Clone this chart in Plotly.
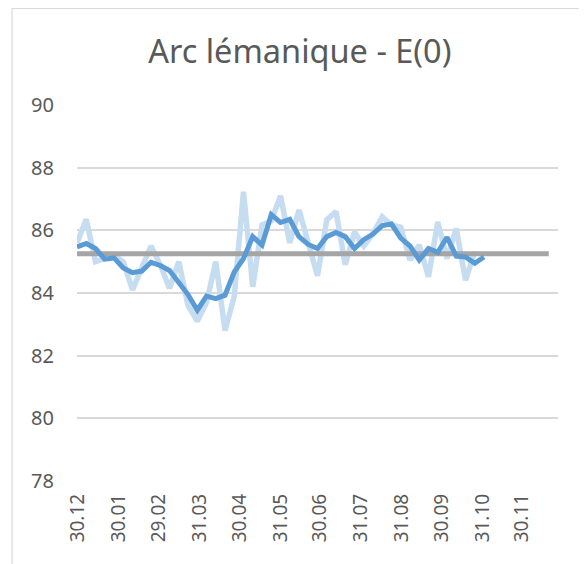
import pandas as pd
import plotly.graph_objects as go

title = "Arc lémanique - E(0)"

week_start = "2019-12-29"
n_weeks = 52

weekly = [85.6, 86.35, 85.0, 85.1, 85.2, 85.0, 84.1, 84.8, 85.5, 84.9,
          84.15, 85.0, 83.6, 83.1, 83.7, 85.0, 82.8, 83.9, 87.23, 84.2,
          86.17, 86.3, 87.1, 85.6, 86.65, 85.6, 84.55, 86.33, 86.6, 84.9,
          85.95, 85.5, 85.9, 86.43, 86.17, 86.1, 85.05, 85.53, 84.52, 86.27,
          85.1, 86.06, 84.41, 85.31]

smoothed = [85.47, 85.58, 85.42, 85.08, 85.12, 84.8, 84.65, 84.7, 84.98, 84.88,
            84.72, 84.35, 83.95, 83.45, 83.9, 83.82, 83.93, 84.67, 85.1, 85.8,
            85.53, 86.5, 86.25, 86.35, 85.8, 85.55, 85.42, 85.8, 85.93, 85.8,
            85.42, 85.7, 85.88, 86.15, 86.2, 85.75, 85.5, 85.05, 85.42, 85.3,
            85.78, 85.18, 85.15, 84.95, 85.15]

average_level = 85.25

tick_dates = ["2019-12-30", "2020-01-30", "2020-02-29", "2020-03-31", "2020-04-30",
              "2020-05-31", "2020-06-30", "2020-07-31", "2020-08-31", "2020-09-30",
              "2020-10-31", "2020-11-30"]
tick_labels = ["30.12", "30.01", "29.02", "31.03", "30.04", "31.05", "30.06",
               "31.07", "31.08", "30.09", "31.10", "30.11"]

dates = pd.date_range(week_start, periods=n_weeks, freq="7D")

fig = go.Figure()
fig.add_trace(go.Scatter(x=dates[:len(weekly)], y=weekly, mode="lines",
                         line=dict(color="#c6dcf0", width=5.5), showlegend=False))
fig.add_trace(go.Scatter(x=dates, y=[average_level] * n_weeks, mode="lines",
                         line=dict(color="#a5a5a5", width=5), showlegend=False))
fig.add_trace(go.Scatter(x=dates[:len(smoothed)], y=smoothed, mode="lines",
                         line=dict(color="#5b9bd5", width=5), showlegend=False))

font_family = "Noto Sans, Open Sans, sans-serif"

# page body has an 8px default margin, so the figure is 8px smaller than the window
fig.update_layout(
    width=579, height=556,
    margin=dict(l=69, r=29, t=97, b=83),
    paper_bgcolor="white", plot_bgcolor="white",
    title=dict(text=title, x=0.504, xanchor="center", y=0.921, yanchor="middle",
               font=dict(family=font_family, size=32.5, color="#595959")),
    font=dict(family=font_family, color="#595959"),
    xaxis=dict(type="date", range=["2019-12-29", "2020-12-27"],
               tickvals=tick_dates, ticktext=tick_labels, tickangle=-90,
               tickfont=dict(size=19, color="#595959"), showgrid=False,
               zeroline=False, showline=False, ticks="", ticklabelstandoff=8),
    yaxis=dict(range=[78, 90], tickvals=[78, 80, 82, 84, 86, 88, 90],
               tickfont=dict(size=20, color="#595959"), showgrid=True,
               gridcolor="#d9d9d9", gridwidth=1.5, zeroline=False,
               showline=False, ticks="", ticklabelstandoff=22),
    shapes=[dict(type="rect", xref="paper", yref="paper",
                 x0=-0.135, x1=1.054, y0=-0.3, y1=1.2566,
                 line=dict(color="#d9d9d9", width=1.2), fillcolor="rgba(0,0,0,0)",
                 layer="below")],
)

fig.write_html("out.html")
